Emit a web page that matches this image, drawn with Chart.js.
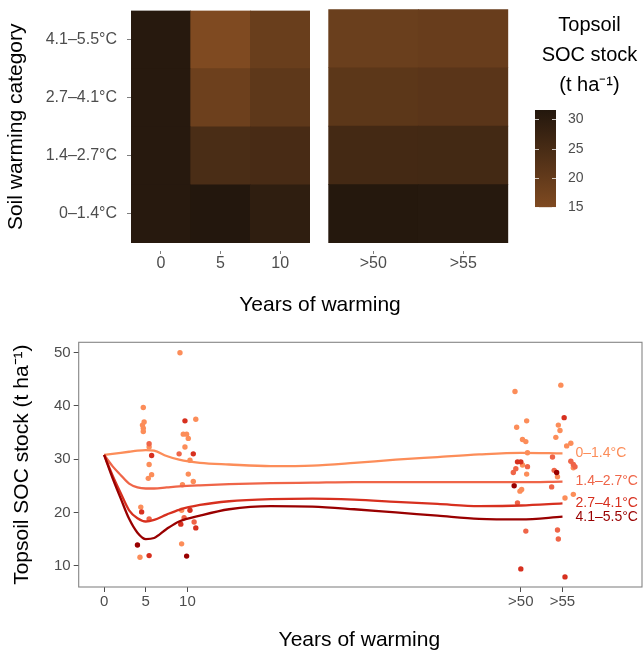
<!DOCTYPE html>
<html>
<head>
<meta charset="utf-8">
<script src="https://cdn.jsdelivr.net/npm/chart.js@4.4.1/dist/chart.umd.min.js"></script>
<style>
  body { margin: 0; background: #fff; }
  #quadro { position: relative; width: 644px; height: 656px; overflow: hidden; }
  canvas, .texto { position: absolute; }
  .texto { font-family: "Liberation Sans", Arial, sans-serif; font-size: 21px; line-height: 24px; color: #000; white-space: nowrap; text-align: center; }
</style>
</head>
<body>
<div id="quadro">
  <canvas id="heatA" width="312" height="300" style="left:0;top:0"></canvas>
  <canvas id="heatB" width="192" height="300" style="left:320px;top:0"></canvas>
  <canvas id="barra" width="122" height="230" style="left:522px;top:0"></canvas>
  <div class="texto" style="left:0;width:640px;top:292px">Years of warming</div>
  <canvas id="pontos" width="644" height="326" style="left:0;top:330px"></canvas>
</div>
<script>
// --- Dados ---
const categorias = ['0–1.4°C', '1.4–2.7°C', '2.7–4.1°C', '4.1–5.5°C'];
const cores = ['#FC8D59', '#EF6548', '#D7301F', '#990000'];

// mapa de calor: estoque médio por categoria (colunas 0, 5, 10, >50, >55)
const anosHeatA = ['0', '5', '10'];
const anosHeatB = ['>50', '>55'];
const estoque0 = [30.8, 31.7, 29.4, 31.2, 31.1];
const estoque1 = [30.8, 24.5, 25.0, 25.7, 25.8];
const estoque2 = [30.8, 18.3, 21.0, 21.3, 21.7];
const estoque3 = [30.8, 15.0, 19.0, 18.7, 19.2];
const centrosLinhas = [0.5, 1.5, 2.5, 3.5];

// barra de cores
const escalaMin = 15;
const escalaMax = 31.6;
const ticksBarra = [15, 20, 25, 30];
const corBaixa = [127, 74, 33];
const corAlta = [35, 23, 13];

// curvas suavizadas (anos x estoque)
const anosCurva = [0, 1, 2, 3, 4, 5, 6, 7.5, 9, 11.5, 15, 20, 25, 30, 35, 40, 45, 50, 55];
const curva0 = [30.8, 31.0, 31.2, 31.4, 31.6, 31.7, 31.6, 30.6, 29.9, 29.3, 29.0, 28.7, 28.8, 29.3, 29.9, 30.4, 30.9, 31.2, 31.1];
const curva1 = [30.8, 28.7, 27.0, 25.4, 24.7, 24.5, 24.5, 24.7, 24.9, 25.1, 25.3, 25.5, 25.6, 25.7, 25.7, 25.7, 25.7, 25.7, 25.8];
const curva2 = [30.8, 27.0, 23.6, 20.4, 18.9, 18.3, 18.6, 19.6, 20.5, 21.4, 22.1, 22.5, 22.6, 22.4, 22.0, 21.6, 21.2, 21.3, 21.7];
const curva3 = [30.8, 26.5, 22.6, 18.8, 16.2, 15.0, 15.2, 16.9, 18.3, 19.4, 20.6, 21.2, 21.1, 20.6, 20.0, 19.4, 18.8, 18.7, 19.2];

// observações [anos, estoque]
const pontos0 = [[4.7,39.7],[4.8,37.0],[4.6,36.4],[4.7,35.8],[4.7,35.2],[5.4,32.3],[5.4,29.0],[5.7,27.1],[5.3,26.4],[4.4,21.0],[4.3,11.6],
  [9.1,50.0],[11.0,37.5],[9.5,34.7],[9.9,34.7],[10.1,33.9],[9.7,32.3],[10.3,29.8],[10.1,27.2],[10.7,25.8],[9.4,25.2],[9.3,20.4],[9.3,14.1],
  [49.3,42.7],[49.5,36.0],[50.7,37.2],[50.2,33.7],[50.6,33.3],[50.8,31.2],[50.2,28.9],[50.7,27.2],[50.1,24.3],[49.9,24.0],
  [54.8,43.9],[54.5,36.4],[54.7,35.4],[54.2,34.1],[56.0,33.0],[55.5,32.5],[56.3,28.4],[54.4,26.7],[56.3,23.4],[55.3,22.7]];
const pontos1 = [[5.4,32.9],[5.4,18.8],[9.0,31.0],[9.6,19.0],[10.8,18.2],
  [49.4,28.2],[49.1,27.5],[50.8,28.6],[49.6,21.8],[50.6,16.5],
  [53.8,30.4],[56.0,29.6],[56.3,29.0],[56.5,28.6],[54.0,27.9],[53.7,24.8],[54.4,16.7],[54.5,15.0]];
const pontos2 = [[5.7,30.7],[4.5,20.1],[5.4,11.9],[9.7,37.2],[10.7,31.0],[10.3,20.4],[9.2,17.8],[11.0,17.1],
  [49.6,29.5],[50.0,29.5],[50.0,9.4],[55.2,37.8],[55.3,7.9]];
const pontos3 = [[4.0,13.9],[9.9,11.8],[49.2,25.0],[54.3,27.5]];

// eixo x do gráfico de pontos
const anosTicks = [0, 5, 10, 50, 55];
const rotulosTicks = ['0', '5', '10', '>50', '>55'];
const estoqueTicks = [10, 20, 30, 40, 50];

// --- Estilo geral ---
const fonte = '"Liberation Sans", Arial, sans-serif';
Chart.defaults.font.family = fonte;
Chart.defaults.color = '#4d4d4d';

function corEstoque(v) {
  const t = Math.max(0, Math.min(1, (v - escalaMin) / (escalaMax - escalaMin)));
  const c = corBaixa.map((b, i) => Math.round(b + (corAlta[i] - b) * t));
  return `rgb(${c[0]},${c[1]},${c[2]})`;
}

// --- Mapa de calor (duas facetas) ---
const linhasEstoque = [estoque0, estoque1, estoque2, estoque3];

function mapaCalor(id, rotulos, inicio, comEixoY, padding) {
  const datasets = linhasEstoque.map((vals, i) => {
    const trecho = vals.slice(inicio, inicio + rotulos.length);
    return {
      label: categorias[i],
      data: trecho.map(() => 1),
      backgroundColor: trecho.map(corEstoque),
      borderWidth: 0,
      barPercentage: 1,
      categoryPercentage: 1
    };
  });
  new Chart(document.getElementById(id), {
    type: 'bar',
    data: { labels: rotulos, datasets },
    options: {
      responsive: false,
      animation: false,
      layout: { padding },
      plugins: { legend: { display: false }, tooltip: { enabled: false } },
      scales: {
        x: {
          stacked: true,
          border: { display: false },
          grid: { offset: false, drawOnChartArea: false, tickLength: 11, tickColor: '#7f7f7f', tickBorderDash: [3, 8], tickBorderDashOffset: 3 },
          ticks: { font: { size: 16 }, padding: 0, color: '#4d4d4d', maxRotation: 0 },
          afterFit: s => { s.height = 57; }
        },
        y: {
          display: comEixoY,
          stacked: true,
          min: 0,
          max: 4,
          border: { display: false },
          grid: { drawOnChartArea: false, tickLength: 13, tickColor: '#7f7f7f', tickBorderDash: [4, 9], tickBorderDashOffset: 4 },
          afterBuildTicks: s => { s.ticks = centrosLinhas.map(v => ({ value: v })); },
          ticks: { font: { size: 16 }, padding: 1, color: '#4d4d4d', callback: v => categorias[Math.floor(v)] },
          title: { display: true, text: 'Soil warming category', color: '#000', font: { size: 21 }, padding: { top: 4, bottom: 0 } },
          afterFit: s => { s.width = comEixoY ? 131 : 0; }
        }
      }
    }
  });
}

mapaCalor('heatA', anosHeatA, 0, true, { top: 9.3, right: 2, left: 0, bottom: 0 });
mapaCalor('heatB', anosHeatB, 3, false, { top: 9.3, right: 3.7, left: 8.3, bottom: 0 });

// --- Barra de cores da legenda ---
const marcasBarra = {
  id: 'marcasBarra',
  afterDatasetsDraw(chart) {
    const { ctx, chartArea } = chart;
    const y = chart.scales.y;
    ctx.save();
    ctx.strokeStyle = 'rgba(255,255,255,0.75)';
    ctx.lineWidth = 1;
    ticksBarra.forEach(v => {
      const py = Math.round(y.getPixelForValue(v)) + 0.5;
      ctx.beginPath();
      ctx.moveTo(chartArea.left, py); ctx.lineTo(chartArea.left + 4, py);
      ctx.moveTo(chartArea.right - 4, py); ctx.lineTo(chartArea.right, py);
      ctx.stroke();
    });
    ctx.restore();
  }
};

new Chart(document.getElementById('barra'), {
  type: 'bar',
  data: {
    labels: [''],
    datasets: [{
      data: [[escalaMin, escalaMax]],
      backgroundColor: ctx => {
        const chart = ctx.chart;
        if (!chart.chartArea) return corEstoque(escalaMin);
        const y = chart.scales.y;
        const g = chart.ctx.createLinearGradient(0, y.getPixelForValue(escalaMin), 0, y.getPixelForValue(escalaMax));
        g.addColorStop(0, corEstoque(escalaMin));
        g.addColorStop(1, corEstoque(escalaMax));
        return g;
      },
      borderWidth: 0,
      barPercentage: 1,
      categoryPercentage: 1
    }]
  },
  options: {
    responsive: false,
    animation: false,
    layout: { padding: { left: 13, right: 0, top: 0, bottom: 22.7 } },
    plugins: {
      legend: { display: false },
      tooltip: { enabled: false },
      title: {
        display: true,
        text: ['Topsoil', 'SOC stock', '(t ha⁻¹)'],
        color: '#000',
        font: { size: 20, weight: 'normal', lineHeight: 1.5 },
        padding: { top: 10, bottom: 10 }
      }
    },
    scales: {
      x: { display: false },
      y: {
        position: 'right',
        min: escalaMin,
        max: escalaMax,
        grid: { display: false },
        border: { display: false },
        afterBuildTicks: s => { s.ticks = ticksBarra.map(v => ({ value: v })); },
        ticks: { font: { size: 14 }, padding: 4, color: '#4d4d4d' },
        afterFit: s => { s.width = 88; }
      }
    }
  },
  plugins: [marcasBarra]
});

// --- Gráfico de pontos com curvas ---
const caixaPainel = {
  id: 'caixaPainel',
  afterDraw(chart) {
    const { ctx, chartArea } = chart;
    ctx.save();
    ctx.strokeStyle = '#858585';
    ctx.lineWidth = 1.1;
    ctx.strokeRect(chartArea.left, chartArea.top, chartArea.right - chartArea.left + 2, chartArea.bottom - chartArea.top);
    ctx.restore();
  }
};

const rotulosLinhas = {
  id: 'rotulosLinhas',
  afterDatasetsDraw(chart) {
    const ctx = chart.ctx;
    ctx.save();
    ctx.font = '14px ' + fonte;
    ctx.textBaseline = 'middle';
    chart.data.datasets.forEach((ds, i) => {
      if (!ds.rotulo) return;
      const els = chart.getDatasetMeta(i).data;
      const p = els[els.length - 1];
      ctx.fillStyle = ds.borderColor;
      ctx.fillText(ds.rotulo, p.x + 13, p.y);
    });
    ctx.restore();
  }
};

const curvas = [curva0, curva1, curva2, curva3];
const pontos = [pontos0, pontos1, pontos2, pontos3];

const dsPontos = pontos.map((lista, i) => ({
  type: 'scatter',
  data: lista.map(p => ({ x: p[0], y: p[1] })),
  backgroundColor: cores[i],
  borderWidth: 0,
  pointRadius: 2.7,
  order: 10 - i
}));

const dsCurvas = curvas.map((vals, i) => ({
  type: 'line',
  rotulo: categorias[i],
  data: anosCurva.map((a, j) => ({ x: a, y: vals[j] })),
  borderColor: cores[i],
  borderWidth: 2.3,
  pointRadius: 0,
  fill: false,
  cubicInterpolationMode: 'monotone',
  order: 4 - i
}));

new Chart(document.getElementById('pontos'), {
  type: 'scatter',
  data: { datasets: [...dsPontos, ...dsCurvas] },
  options: {
    responsive: false,
    animation: false,
    layout: { padding: { top: 12.3, right: 0, left: 0, bottom: 0 } },
    plugins: { legend: { display: false }, tooltip: { enabled: false } },
    scales: {
      x: {
        type: 'linear',
        min: -3.05,
        max: 64.3,
        border: { display: false },
        grid: { drawOnChartArea: false, tickLength: 5, tickColor: '#4d4d4d' },
        afterBuildTicks: s => { s.ticks = anosTicks.map(v => ({ value: v })); },
        ticks: { font: { size: 15 }, padding: 1, color: '#4d4d4d', callback: v => rotulosTicks[anosTicks.indexOf(v)] },
        title: { display: true, text: 'Years of warming', color: '#000', font: { size: 21 }, padding: { top: 0, bottom: 3.4 } },
        afterFit: s => { s.height = 69; }
      },
      y: {
        min: 6.0,
        max: 51.95,
        border: { display: false },
        grid: { drawOnChartArea: false, tickLength: 5, tickColor: '#4d4d4d' },
        afterBuildTicks: s => { s.ticks = estoqueTicks.map(v => ({ value: v })); },
        ticks: { font: { size: 15 }, padding: 3, color: '#4d4d4d' },
        title: { display: true, text: 'Topsoil SOC stock (t ha⁻¹)', color: '#000', font: { size: 21 }, padding: { top: 10, bottom: 0 } },
        afterFit: s => { s.width = 78.7; }
      }
    }
  },
  plugins: [caixaPainel, rotulosLinhas]
});
</script>
</body>
</html>
